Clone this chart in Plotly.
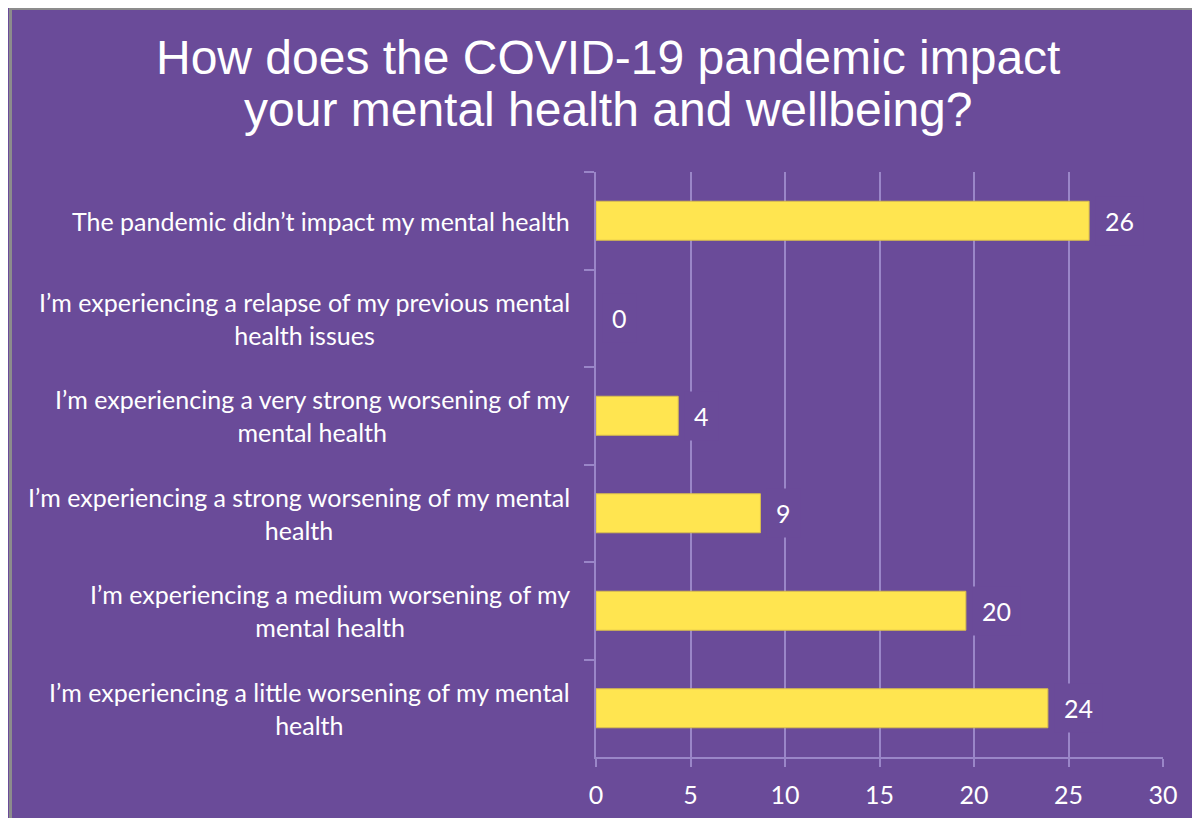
import plotly.graph_objects as go

# ---- data ----
categories = [
    "The pandemic didn’t impact my mental health",
    "I’m experiencing a relapse of my previous mental<br>health issues",
    "I’m experiencing a very strong worsening of my<br>mental health",
    "I’m experiencing a strong worsening of my mental<br>health",
    "I’m experiencing a medium worsening of my<br>mental health",
    "I’m experiencing a little worsening of my mental<br>health",
]
values = [26.09, 0, 4.35, 8.70, 19.57, 23.91]
x_ticks = [0, 5, 10, 15, 20, 25, 30]
title_lines = ["How does the COVID-19 pandemic impact", "your mental health and wellbeing?"]

# ---- styles ----
PURPLE = "#6A4B99"
GRID = "#9A86C8"
YELLOW = "#FFE550"
BAR_EDGE = "#D9BE4C"
BORDER = "#8C8C8C"
LABEL_FONT = "Lato"
W, H = 1192, 810          # page body adds an 8px margin
L, R, T, B = 588, 37, 164, 61
plot_w = W - L - R
plot_h = H - T - B


def px_x(X):
    return (X - L) / plot_w


def px_y(Y):
    return (H - B - Y) / plot_h


fig = go.Figure()
fig.add_trace(go.Bar(
    x=values, y=categories, orientation="h",
    marker=dict(color=YELLOW,
                line=dict(color=BAR_EDGE, width=[1 if v > 0 else 0 for v in values])),
    width=0.4, hoverinfo="skip", showlegend=False,
))

annotations = []
# data labels with background boxes that interrupt gridlines
for v, c in zip(values, categories):
    annotations.append(dict(
        x=v, y=c, xref="x", yref="y", text=f"{v:.0f}", showarrow=False,
        xanchor="left", yanchor="middle", xshift=6, borderpad=9,
        bgcolor=PURPLE, font=dict(family=LABEL_FONT, size=25, color="white"),
    ))
# category labels (centre-aligned lines, right-aligned block)
for c in categories:
    annotations.append(dict(
        x=0, y=c, xref="paper", yref="y", text=c, showarrow=False,
        xanchor="right", yanchor="middle", align="center", xshift=-24,
        font=dict(family=LABEL_FONT, size=25, color="white"),
    ))
# title lines
for line, py in zip(title_lines, [49, 102]):
    annotations.append(dict(
        x=px_x(600), y=px_y(py), xref="paper", yref="paper",
        text=line, showarrow=False, xanchor="center", yanchor="middle",
        font=dict(family="Liberation Sans, Arial", size=48, color="white"),
    ))

shapes = [
    dict(type="line", xref="paper", yref="paper", layer="above",
         x0=px_x(2.5), x1=px_x(2.5), y0=px_y(0), y1=px_y(H + 5),
         line=dict(color=BORDER, width=3)),
    dict(type="line", xref="paper", yref="paper", layer="above",
         x0=px_x(1), x1=px_x(W + 5), y0=px_y(1), y1=px_y(1),
         line=dict(color=BORDER, width=2)),
]

fig.update_layout(
    width=W, height=H,
    margin=dict(l=L, r=R, t=T, b=B, pad=0, autoexpand=False),
    paper_bgcolor=PURPLE, plot_bgcolor=PURPLE,
    annotations=annotations, shapes=shapes,
    hovermode=False, showlegend=False,
    xaxis=dict(
        range=[0, 30], tickvals=x_ticks, ticktext=[str(t) for t in x_ticks],
        showgrid=True, gridcolor=GRID, gridwidth=1.5, zeroline=False,
        showline=True, linecolor=GRID, linewidth=1.5,
        ticks="outside", ticklen=8, tickcolor=GRID, tickwidth=1.5,
        tickfont=dict(family=LABEL_FONT, size=25, color="white"),
        ticklabelstandoff=7, fixedrange=True, automargin=False,
    ),
    yaxis=dict(
        categoryorder="array", categoryarray=categories, autorange="reversed",
        showgrid=False, showticklabels=False, zeroline=False,
        showline=True, linecolor=GRID, linewidth=1.5,
        ticks="outside", tickson="boundaries", ticklen=10, tickcolor=GRID, tickwidth=1.5,
        fixedrange=True, automargin=False,
    ),
)

fig.write_html("out.html")
